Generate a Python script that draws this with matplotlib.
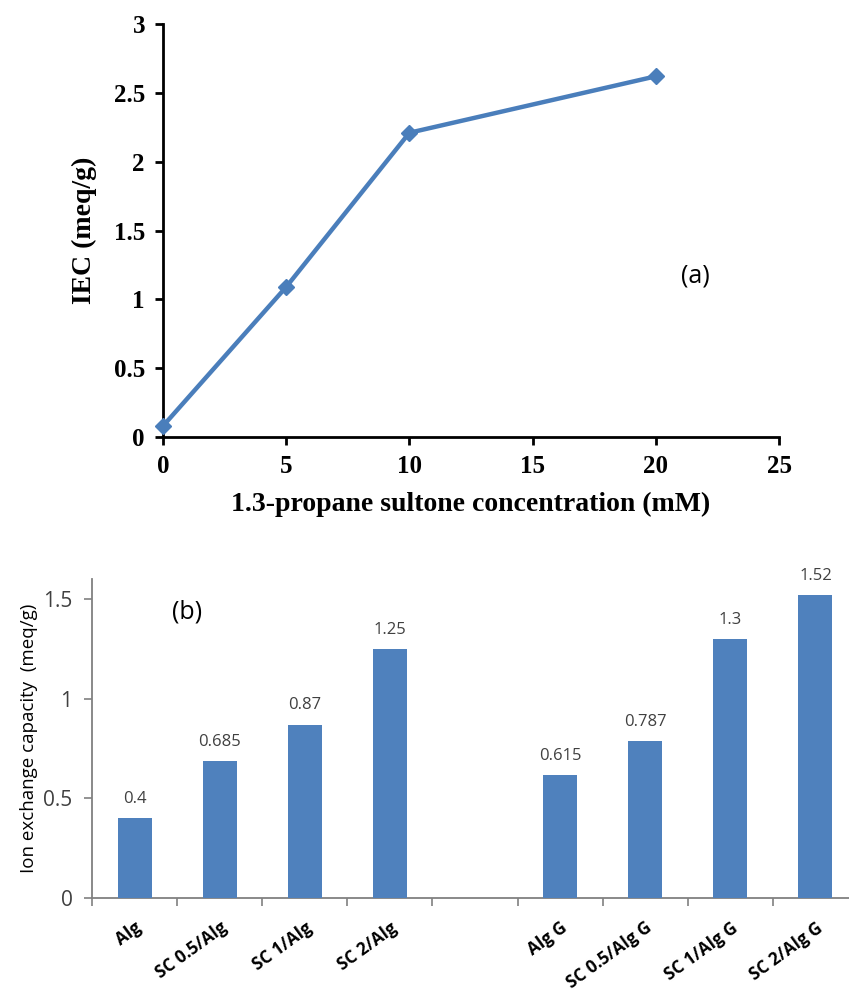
import numpy as np
import matplotlib
matplotlib.use("Agg")
import matplotlib.pyplot as plt
from matplotlib.ticker import FixedLocator
from matplotlib.transforms import ScaledTranslation

# Panel (a): IEC versus 1,3-propane sultone concentration
sultone_mM = [0, 5, 10, 20]
iec_meq_g = [0.08, 1.09, 2.21, 2.62]
x_ticks_a = [0, 5, 10, 15, 20, 25]
y_ticks_a = [0, 0.5, 1, 1.5, 2, 2.5, 3]
y_ticklabels_a = ["0", "0.5", "1", "1.5", "2", "2.5", "3"]

# Panel (b): ion exchange capacity of the membranes
bar_labels = ["Alg", "SC 0.5/Alg", "SC 1/Alg", "SC 2/Alg", "",
              "Alg G", "SC 0.5/Alg G", "SC 1/Alg G", "SC 2/Alg G"]
bar_values = [0.4, 0.685, 0.87, 1.25, None, 0.615, 0.787, 1.3, 1.52]
bar_texts = ["0.4", "0.685", "0.87", "1.25", None, "0.615", "0.787", "1.3", "1.52"]
y_ticks_b = [0, 0.5, 1, 1.5]
y_ticklabels_b = ["0", "0.5", "1", "1.5"]

W, H = 849, 992
fig = plt.figure(figsize=(W / 100, H / 100), dpi=100)

serif = "Liberation Serif"
sans = "Open Sans"
line_blue = "#4A7EBB"
bar_blue = "#4F81BD"

# ---------- (a) ----------
ax1 = fig.add_axes([163 / W, 1 - 437 / H, (779 - 163) / W, (437 - 24) / H])
ax1.plot(sultone_mM, iec_meq_g, color=line_blue, lw=3.2, marker="D",
         markersize=8.5, markerfacecolor=line_blue, markeredgecolor=line_blue,
         clip_on=False, zorder=5)
ax1.set_xlim(0, 25)
ax1.set_ylim(0, 3)
ax1.set_xticks(x_ticks_a, [str(v) for v in x_ticks_a],
               fontfamily=serif, fontweight="bold")
ax1.set_yticks(y_ticks_a, y_ticklabels_a, fontfamily=serif, fontweight="bold")
ax1.spines[["top", "right"]].set_visible(False)
for s in ("left", "bottom"):
    ax1.spines[s].set_linewidth(2.0)
    ax1.spines[s].set_color("black")
ax1.tick_params(axis="both", direction="out", length=6, width=2.0,
                color="black", labelsize=18, pad=7)
ax1.set_xlabel("1.3-propane sultone concentration (mM)", fontfamily=serif,
               fontweight="bold", fontsize=20, labelpad=10)
ax1.set_ylabel("IEC (meq/g)", fontfamily=serif, fontweight="bold",
               fontsize=20, labelpad=12)
ax1.text(695 / W, 1 - 276 / H, "(a)", transform=fig.transFigure,
         fontfamily=sans, fontsize=18, ha="center", va="center")

# ---------- (b) ----------
ax2 = fig.add_axes([92 / W, 1 - 898 / H, (858 - 92) / W, (898 - 579) / H])
pos = np.arange(len(bar_labels))
heights = [np.nan if v is None else v for v in bar_values]
ax2.bar(pos, heights, width=0.4, color=bar_blue, zorder=3)
for p, v, t in zip(pos, bar_values, bar_texts):
    if v is None:
        continue
    ax2.annotate(t, (p, v), xytext=(0, 8), textcoords="offset points",
                 ha="center", va="bottom", fontfamily=sans, fontsize=12,
                 color="#404040")
ax2.set_xlim(-0.5, len(bar_labels) - 0.5)
ax2.set_ylim(0, 1.6)
ax2.set_yticks(y_ticks_b, y_ticklabels_b, fontfamily=sans)
ax2.set_xticks(pos, bar_labels, fontfamily=sans, fontweight="bold",
               fontsize=12.3, rotation=36, ha="right",
               rotation_mode="anchor", color="black")
shift = ScaledTranslation(-6 / 100, 0, fig.dpi_scale_trans)
for lab in ax2.get_xticklabels():
    lab.set_transform(lab.get_transform() + shift)
ax2.xaxis.set_minor_locator(FixedLocator(np.arange(-0.5, len(bar_labels), 1.0)))
ax2.tick_params(axis="x", which="major", length=0, pad=15)
ax2.tick_params(axis="x", which="minor", length=6, width=1.2, color="#808080")
ax2.tick_params(axis="y", length=6, width=1.2, color="#808080",
                labelsize=15, labelcolor="#404040", pad=8)
ax2.spines[["top", "right"]].set_visible(False)
for s in ("left", "bottom"):
    ax2.spines[s].set_color("#808080")
    ax2.spines[s].set_linewidth(1.3)
ax2.set_ylabel("Ion exchange capacity  (meq/g)", fontfamily=sans,
               fontsize=13.5, color="black", labelpad=4)
ax2.text(187 / W, 1 - 612 / H, "(b)", transform=fig.transFigure,
         fontfamily=sans, fontsize=18, ha="center", va="center")

fig.savefig("out.png", dpi=100)
